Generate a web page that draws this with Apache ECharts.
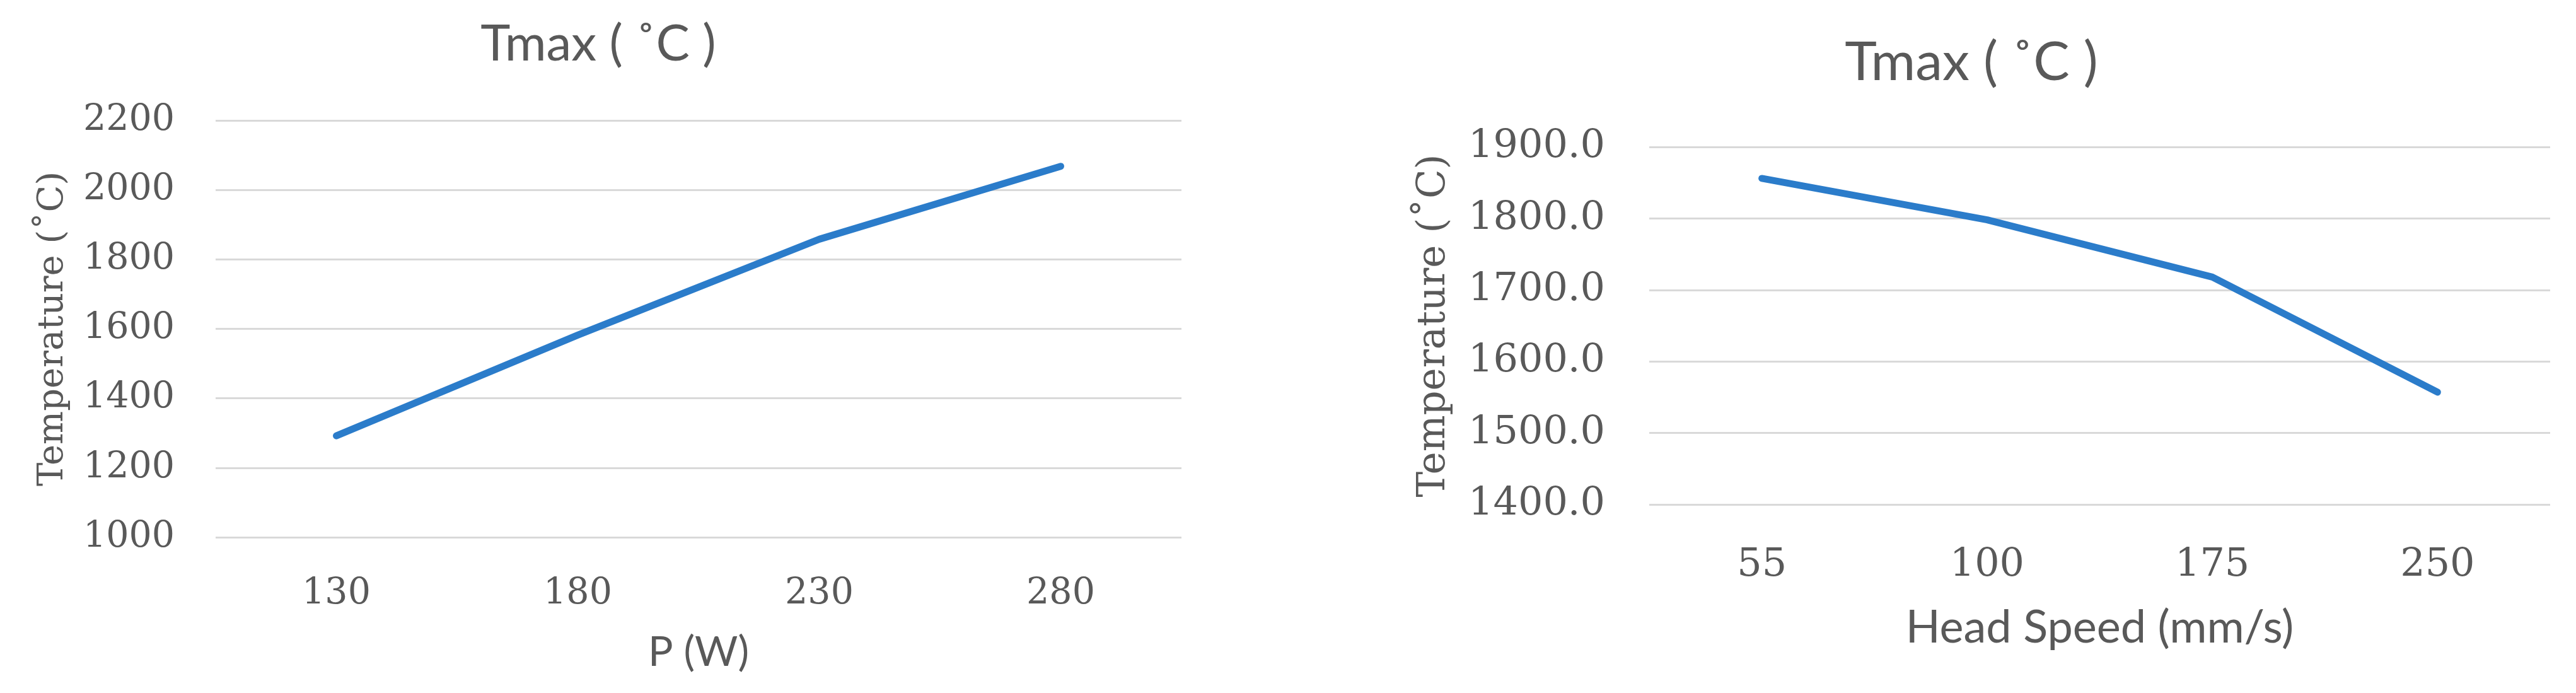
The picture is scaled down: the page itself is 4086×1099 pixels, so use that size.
<!DOCTYPE html>
<html lang="en">
<head>
    <meta charset="UTF-8">
    <title>Tmax</title>
    <script src="https://cdn.jsdelivr.net/npm/echarts@6/dist/echarts.min.js"></script>
    <style>
        html, body { margin: 0; padding: 0; background: #fff; }
        #chart { width: 4086px; height: 1099px; }
    </style>
</head>
<body>
<div id="chart"></div>
<script type="text/javascript">
    // left panel: laser power
    var powerCats = ['130', '180', '230', '280'];
    var powerTmax = [1292, 1582, 1858, 2068];
    // right panel: head speed
    var speedCats = ['55', '100', '175', '250'];
    var speedTmax = [1856, 1798, 1718, 1557];

    var grey = '#595959';
    var blue = '#2b7cca';
    var serif = 'DejaVu Serif';
    var sans = 'Lato';

    var chart = echarts.init(document.getElementById('chart'));

    var option = {
        backgroundColor: '#fff',
        animation: false,
        graphic: [
            { type: 'text', x: 949, y: 30, style: { text: 'Tmax ( \u02DAC )', font: '80px Lato', fill: grey, textAlign: 'center' } },
            { type: 'text', x: 3127, y: 56, style: { text: 'Tmax ( \u02DAC )', font: '86px Lato', fill: grey, textAlign: 'center' } }
        ],
        grid: [
            { left: 342, right: 2212, top: 191, bottom: 247 },
            { left: 2616, right: 41, top: 233, bottom: 299 }
        ],
        xAxis: [
            {
                type: 'category', gridIndex: 0, data: powerCats,
                axisLine: { show: false }, axisTick: { show: false },
                axisLabel: { color: grey, fontFamily: serif, fontSize: 57, margin: 62 },
                name: 'P (W)', nameLocation: 'middle', nameGap: 150,
                nameTextStyle: { color: grey, fontFamily: sans, fontSize: 66 }
            },
            {
                type: 'category', gridIndex: 1, data: speedCats,
                axisLine: { show: false }, axisTick: { show: false },
                axisLabel: { color: grey, fontFamily: serif, fontSize: 62, margin: 66 },
                name: 'Head Speed (mm/s)', nameLocation: 'middle', nameGap: 160,
                nameTextStyle: { color: grey, fontFamily: sans, fontSize: 72 }
            }
        ],
        yAxis: [
            {
                type: 'value', gridIndex: 0, min: 1000, max: 2200, interval: 200,
                axisLine: { show: false }, axisTick: { show: false },
                axisLabel: {
                    color: grey, fontFamily: serif, fontSize: 57, margin: 65,
                    formatter: function (v) { return String(v); }
                },
                splitLine: { lineStyle: { color: '#d9d9d9', width: 3 } },
                name: 'Temperature (\u02DAC)', nameLocation: 'middle', nameGap: 230, nameRotate: 90,
                nameTextStyle: { color: grey, fontFamily: serif, fontSize: 56 }
            },
            {
                type: 'value', gridIndex: 1, min: 1400, max: 1900, interval: 100,
                axisLine: { show: false }, axisTick: { show: false },
                axisLabel: {
                    color: grey, fontFamily: serif, fontSize: 62, margin: 70,
                    formatter: function (v) { return v.toFixed(1); }
                },
                splitLine: { lineStyle: { color: '#d9d9d9', width: 3 } },
                name: 'Temperature (\u02DAC)', nameLocation: 'middle', nameGap: 310, nameRotate: 90,
                nameTextStyle: { color: grey, fontFamily: serif, fontSize: 61 }
            }
        ],
        series: [
            {
                type: 'line', xAxisIndex: 0, yAxisIndex: 0, data: powerTmax,
                showSymbol: false, lineStyle: { color: blue, width: 11, cap: 'round', join: 'round' }
            },
            {
                type: 'line', xAxisIndex: 1, yAxisIndex: 1, data: speedTmax,
                showSymbol: false, lineStyle: { color: blue, width: 11, cap: 'round', join: 'round' }
            }
        ]
    };

    option && chart.setOption(option);
</script>
</body>
</html>
